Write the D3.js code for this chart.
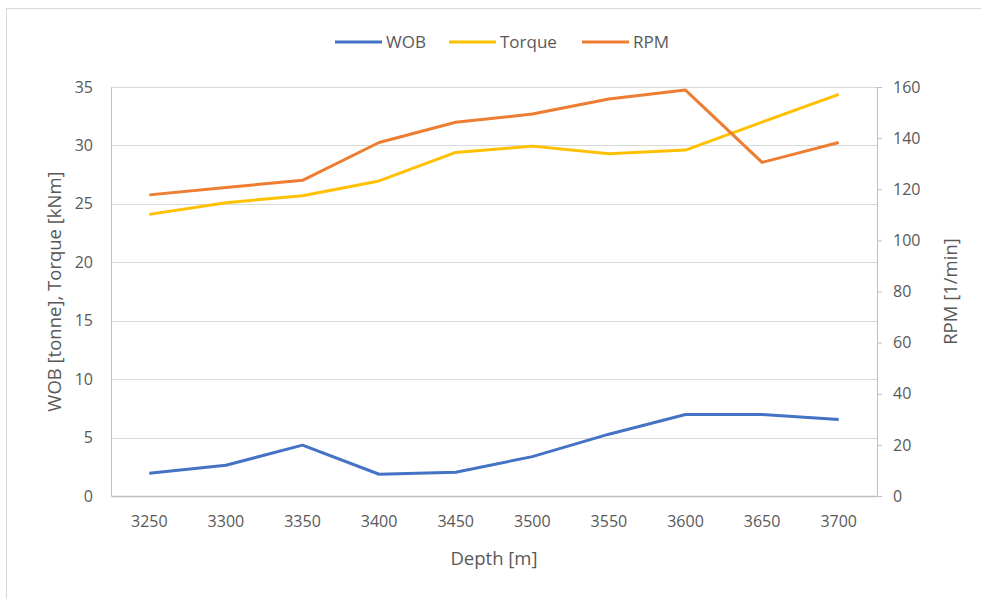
<!DOCTYPE html>
<html>
<head>
<meta charset="utf-8">
<script src="https://cdn.jsdelivr.net/npm/d3@7"></script>
<style>
  body { margin: 0; background: #fff; }
  text { font-family: "Liberation Sans Narrow", "Open Sans", sans-serif; fill: #595959; }
</style>
</head>
<body>
<div id="chart"></div>
<script>
// chart data
var depths = [3250, 3300, 3350, 3400, 3450, 3500, 3550, 3600, 3650, 3700];
var wob = [1.95, 2.63, 4.35, 1.86, 2.03, 3.37, 5.29, 6.97, 6.97, 6.54];
var torque = [24.1, 25.1, 25.7, 26.96, 29.4, 29.94, 29.28, 29.6, 32.0, 34.37];
var rpm = [117.8, 120.7, 123.5, 138.3, 146.2, 149.4, 155.3, 158.8, 130.5, 138.3];
var leftTicks = [0, 5, 10, 15, 20, 25, 30, 35];
var rightTicks = [0, 20, 40, 60, 80, 100, 120, 140, 160];

var w = 981;
var h = 599;
var margin = { top: 87, bottom: 103, left: 111, right: 104 };

var svg = d3.select("#chart").append("svg")
  .attr("width", w)
  .attr("height", h);

// outer chart border
svg.append("rect")
  .attr("x", 6.5).attr("y", 8.5)
  .attr("width", w).attr("height", h)
  .attr("fill", "none")
  .attr("stroke", "#d9d9d9");

var x = d3.scaleBand()
  .domain(depths)
  .range([margin.left, w - margin.right]);

var yL = d3.scaleLinear().domain([0, 35]).range([h - margin.bottom, margin.top]);
var yR = d3.scaleLinear().domain([0, 160]).range([h - margin.bottom, margin.top]);

// gridlines
svg.append("g")
  .selectAll("line")
  .data(leftTicks.slice(1))
  .enter().append("line")
  .attr("x1", margin.left).attr("x2", w - margin.right)
  .attr("y1", function(d) { return Math.round(yL(d)) + 0.5; })
  .attr("y2", function(d) { return Math.round(yL(d)) + 0.5; })
  .attr("stroke", "#d9d9d9")
  .attr("stroke-width", 1);

// left axis
var yAxisL = d3.axisLeft(yL).tickValues(leftTicks).tickSize(0).tickPadding(18);
var gl = svg.append("g")
  .attr("transform", "translate(" + margin.left + ",0)")
  .call(yAxisL);
gl.select(".domain").attr("stroke", "#bfbfbf");
gl.selectAll("text").style("font-size", "16px");

// right axis
var yAxisR = d3.axisRight(yR).tickValues(rightTicks).tickSize(5).tickPadding(11);
var gr = svg.append("g")
  .attr("transform", "translate(" + (w - margin.right) + ",0)")
  .call(yAxisR);
gr.select(".domain").attr("stroke", "#bfbfbf");
gr.selectAll("line").attr("stroke", "#bfbfbf");
gr.selectAll("text").style("font-size", "16px");

// bottom axis
var xAxis = d3.axisBottom(x).tickSize(0).tickPadding(20);
var gx = svg.append("g")
  .attr("transform", "translate(0," + (h - margin.bottom) + ")")
  .call(xAxis);
gx.select(".domain").attr("stroke", "#bfbfbf").attr("stroke-width", 1.5);
gx.selectAll("text").style("font-size", "16px");

// axis titles
svg.append("text")
  .attr("transform", "translate(61," + ((margin.top + h - margin.bottom) / 2) + ") rotate(-90)")
  .attr("text-anchor", "middle")
  .style("font-size", "18.5px")
  .text("WOB [tonne], Torque [kNm]");

svg.append("text")
  .attr("transform", "translate(957," + ((margin.top + h - margin.bottom) / 2) + ") rotate(-90)")
  .attr("text-anchor", "middle")
  .style("font-size", "18.5px")
  .text("RPM [1/min]");

svg.append("text")
  .attr("x", (margin.left + w - margin.right) / 2)
  .attr("y", 565)
  .attr("text-anchor", "middle")
  .style("font-size", "18.5px")
  .text("Depth [m]");

// lines
var series = [
  { name: "WOB", values: wob, color: "#4472c4", scale: yL },
  { name: "Torque", values: torque, color: "#ffc000", scale: yL },
  { name: "RPM", values: rpm, color: "#ed7d31", scale: yR }
];

series.forEach(function(s) {
  var line = d3.line()
    .x(function(d, i) { return x(depths[i]) + x.bandwidth() / 2; })
    .y(function(d) { return s.scale(d); });
  svg.append("path")
    .datum(s.values)
    .attr("fill", "none")
    .attr("stroke", s.color)
    .attr("stroke-width", 3)
    .attr("stroke-linejoin", "round")
    .attr("d", line);
});

// legend
var legendX = [335, 449, 582];
var legend = svg.append("g");
series.forEach(function(s, i) {
  legend.append("line")
    .attr("x1", legendX[i]).attr("x2", legendX[i] + 47)
    .attr("y1", 42).attr("y2", 42)
    .attr("stroke", s.color)
    .attr("stroke-width", 3);
  legend.append("text")
    .attr("x", legendX[i] + 51)
    .attr("y", 48)
    .style("font-size", "17px")
    .text(s.name);
});
</script>
</body>
</html>
